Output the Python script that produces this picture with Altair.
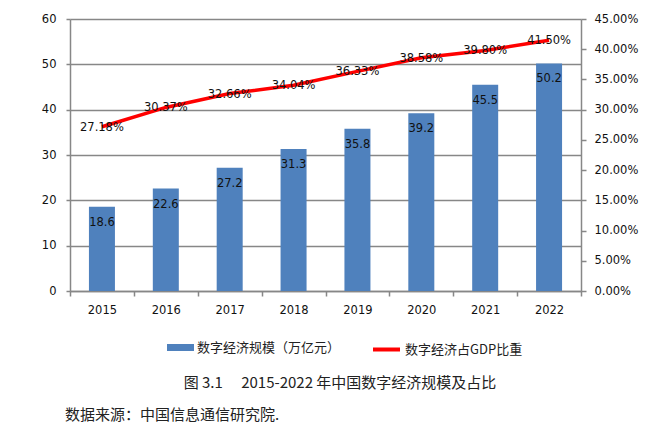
import altair as alt
import pandas as pd

years = ["2015", "2016", "2017", "2018", "2019", "2020", "2021", "2022"]
scale_values = [18.6, 22.6, 27.2, 31.3, 35.8, 39.2, 45.5, 50.2]
gdp_share = [0.2718, 0.3037, 0.3266, 0.3404, 0.3633, 0.3858, 0.3980, 0.4150]
bar_name = "数字经济规模（万亿元）"
line_name = "数字经济占GDP比重"
left_ticks = [0, 10, 20, 30, 40, 50, 60]
right_ticks = [0, 0.05, 0.10, 0.15, 0.20, 0.25, 0.30, 0.35, 0.40, 0.45]
caption = "图 3.1\u3000 2015-2022 年中国数字经济规模及占比"
source = "数据来源：中国信息通信研究院."

df = pd.DataFrame({
    "year": years,
    "value": scale_values,
    "ratio": gdp_share,
    "s": [bar_name] * len(years),
    "s2": [line_name] * len(years),
})

GRID = "#878787"
NUMFONT = "DejaVu Sans"
CJK = "Noto Sans CJK SC"

xenc = alt.X(
    "year:N", sort=None, title=None,
    scale=alt.Scale(type="band", paddingInner=0, paddingOuter=0),
    axis=alt.Axis(
        labelAngle=0, labelFont=NUMFONT, labelFontSize=11.5, labelColor="#111",
        labelPadding=8, tickBand="extent", tickSize=5, tickColor=GRID,
        tickWidth=1.5, domainColor=GRID, domainWidth=1.5, grid=False,
    ),
)

yleft = alt.Y(
    "value:Q", title=None,
    scale=alt.Scale(domain=[0, 60], nice=False),
    axis=alt.Axis(
        values=left_ticks, labelFont=NUMFONT, labelFontSize=11.5,
        labelColor="#111", labelPadding=10, tickSize=4, tickColor=GRID,
        tickWidth=1.5, domainColor=GRID, domainWidth=1.5,
        grid=True, gridColor=GRID, gridWidth=1.5, labelOverlap=False,
    ),
)

yright = alt.Y(
    "ratio:Q", title=None,
    scale=alt.Scale(domain=[0, 0.45], nice=False),
    axis=alt.Axis(
        orient="right", values=right_ticks, format=".2%",
        labelFont=NUMFONT, labelFontSize=11.5, labelColor="#111",
        labelPadding=8, tickSize=5, tickColor=GRID, tickWidth=1.5,
        domainColor=GRID, domainWidth=1.5, grid=False,
        labelOverlap=False, labelFlush=False,
    ),
)

base = alt.Chart(df)

bars = base.mark_bar(size=26).encode(
    x=xenc,
    y=yleft,
    fill=alt.Fill(
        "s:N",
        scale=alt.Scale(domain=[bar_name], range=["#4F81BD"]),
        legend=alt.Legend(
            orient="none", legendX=97, legendY=315, title=None,
            symbolType="M-1,-0.26H1V0.26H-1Z", symbolSize=729,
            symbolStrokeWidth=0, labelFont=CJK, labelFontSize=13,
            labelColor="#222", labelOffset=3,
        ),
    ),
)

bar_text = base.mark_text(
    font=NUMFONT, fontSize=11.5, color="#111", dy=16, baseline="middle"
).encode(
    x=xenc,
    y=yleft,
    text=alt.Text("value:Q", format=".1f"),
)

line = base.mark_line(strokeWidth=3.5).encode(
    x=xenc,
    y=yright,
    stroke=alt.Stroke(
        "s2:N",
        scale=alt.Scale(domain=[line_name], range=["#FF0000"]),
        legend=alt.Legend(
            orient="none", legendX=301, legendY=315, title=None,
            symbolType="stroke", symbolSize=729, symbolStrokeWidth=4,
            labelFont=CJK, labelFontSize=13, labelColor="#222",
            labelOffset=3,
        ),
    ),
)

line_text = base.mark_text(
    font=NUMFONT, fontSize=11.5, color="#111", dy=1, baseline="middle"
).encode(
    x=xenc,
    y=yright,
    text=alt.Text("ratio:Q", format=".2%"),
)

cap = alt.Chart(pd.DataFrame({"t": [caption]})).mark_text(
    font=CJK, fontSize=15, color="#222", align="center", baseline="middle"
).encode(x=alt.value(270), y=alt.value(364), text="t:N")

src = alt.Chart(pd.DataFrame({"t": [source]})).mark_text(
    font=CJK, fontSize=15, color="#222", align="left", baseline="middle"
).encode(x=alt.value(-5), y=alt.value(396), text="t:N")

left = alt.layer(bars, bar_text)
right = alt.layer(line, line_text)

chart = alt.layer(left, right, cap, src).resolve_scale(
    y="independent"
).properties(
    width=511, height=272,
    autosize=alt.AutoSizeParams(type="none"),
    padding={"left": 62, "top": 11, "right": 73, "bottom": 138},
).configure_view(stroke=None)

chart.save("out.html", embed_options={"renderer": "svg", "actions": False})
